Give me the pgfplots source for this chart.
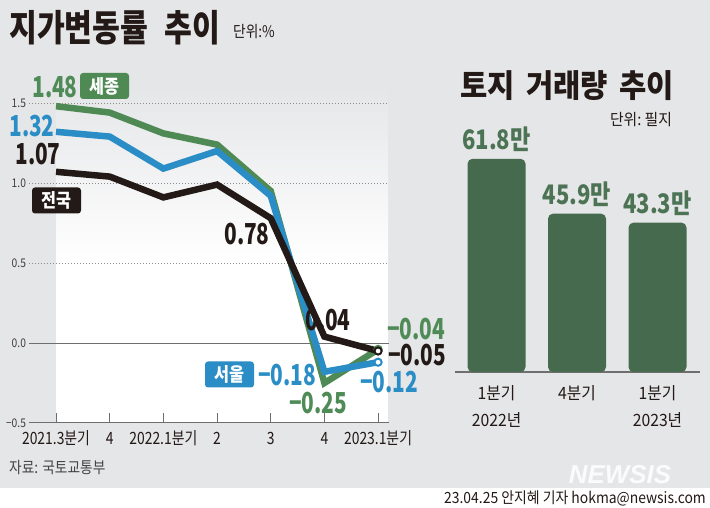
\documentclass[border=0pt]{standalone}
\usepackage{fontspec}
\setmainfont{Noto Sans CJK KR}
\newfontfamily\fX[FakeStretch=0.72]{Noto Sans CJK KR}
\newfontfamily\fY[FakeStretch=0.82]{Noto Sans CJK KR}
\newfontfamily\fZ[FakeStretch=0.86]{Noto Sans CJK KR}
\newfontfamily\fV[FakeStretch=0.9]{Noto Sans CJK KR}
\newfontfamily\fW[FakeStretch=0.93]{Noto Sans CJK KR}
\newfontfamily\lsans{Liberation Sans}
\usepackage{pgfplots}
\pgfplotsset{compat=1.18}
\definecolor{bgc}{HTML}{E5E6E8}
\definecolor{gline}{HTML}{4F8A55}
\definecolor{gtxt}{HTML}{4E8B57}
\definecolor{bline}{HTML}{2B8DC6}
\definecolor{blk}{HTML}{231916}
\definecolor{barc}{HTML}{466A4D}
\definecolor{bartxt}{HTML}{4C7454}
\definecolor{gridc}{HTML}{8C8C8C}
\definecolor{axc}{HTML}{6E6E6E}
\definecolor{ftxt}{HTML}{444444}
\tikzset{
  val/.style={inner sep=0, font=\fX\bfseries\fontsize{29}{29}\selectfont},
  tag/.style={inner sep=0, rounded corners=3bp, minimum width=49bp, minimum height=26bp, text=white, font=\fZ\bfseries\fontsize{19}{19}\selectfont},
}
\begin{document}
\begin{tikzpicture}
\useasboundingbox (0,0) rectangle (710bp,508bp);
\fill[bgc] (0,20bp) rectangle (710bp,508bp);
\fill[white] (0,0) rectangle (710bp,20bp);
% light gradient behind the lines
\shade[top color=bgc, bottom color=white] (56bp,245bp) rectangle (388bp,421bp);
\fill[white] (56bp,85bp) rectangle (388bp,245.5bp);

\begin{axis}[
  at={(29.2bp,85bp)}, anchor=south west,
  scale only axis, width=359.6bp, height=336bp,
  xmin=-0.5, xmax=6.2, ymin=-0.5, ymax=1.6,
  clip=false,
  axis lines*=left, axis line style={-},
  y axis line style={draw=none},
  x axis line style={-, draw=axc, line width=1bp},
  xtick={0,...,6},
  xticklabels={2021.3분기,4,2022.1분기,2,3,4,2023.1분기},
  tick align=inside, major tick length=10bp,
  xtick style={draw=axc, line width=1bp},
  ytick={-0.5,0,0.5,1,1.5},
  yticklabels={−0.5,0.0,0.5,1.0,1.5},
  ytick style={draw=none},
  xticklabel style={font=\fY\fontsize{17}{17}\selectfont, text=blk, anchor=center, inner sep=0, yshift=-15bp},
  yticklabel style={font=\fZ\fontsize{12}{12}\selectfont, text=blk!85, anchor=east, inner sep=0, xshift=-3bp},
]
\draw[gridc, line width=0.8bp, dash pattern=on 0.9bp off 2.1bp] (axis cs:-0.5,1.5) -- (axis cs:6.2,1.5);
\draw[gridc, line width=0.8bp, dash pattern=on 0.9bp off 2.1bp] (axis cs:-0.5,1.0) -- (axis cs:6.2,1.0);
\draw[gridc, line width=0.8bp, dash pattern=on 0.9bp off 2.1bp] (axis cs:-0.5,0.5) -- (axis cs:6.2,0.5);
\draw[axc, line width=0.9bp] (axis cs:-0.5,0) -- (axis cs:6.2,0);
\addplot[gline, line width=6.5bp, mark=*, mark indices={7}, mark size=3.6bp,
  mark options={fill=white, draw=gline, line width=2bp}]
  coordinates {(0,1.48)(1,1.44)(2,1.31)(3,1.24)(4,0.95)(5,-0.25)(6,-0.04)};
\addplot[bline, line width=6.5bp, mark=*, mark indices={7}, mark size=3.6bp,
  mark options={fill=white, draw=bline, line width=2bp}]
  coordinates {(0,1.32)(1,1.29)(2,1.09)(3,1.20)(4,0.92)(5,-0.18)(6,-0.12)};
\addplot[blk, line width=6.5bp, mark=*, mark indices={7}, mark size=3.6bp,
  mark options={fill=white, draw=blk, line width=2bp}]
  coordinates {(0,1.07)(1,1.04)(2,0.91)(3,0.99)(4,0.78)(5,0.04)(6,-0.05)};
\end{axis}

\begin{axis}[
  at={(455bp,136bp)}, anchor=south west,
  scale only axis, width=245bp, height=224.25bp,
  xmin=-0.516, xmax=2.528, ymin=0, ymax=65,
  clip=false,
  axis lines*=left, axis line style={-},
  y axis line style={draw=none},
  x axis line style={-, draw=axc, line width=1.5bp},
  ytick=\empty,
  xtick={0,1,2},
  xticklabels={{1분기\\2022년},{4분기},{1분기\\2023년}},
  xtick style={draw=none},
  xticklabel style={align=center, anchor=north, inner sep=0, yshift=-9bp, text=blk,
    font=\fW\fontsize{17}{27}\selectfont},
  ybar, bar width=58bp,
  /pgf/number format/assume math mode=true,
  nodes near coords={\pgfmathprintnumber[fixed,fixed zerofill,precision=1]{\pgfplotspointmeta}만},
  every node near coord/.append style={text=bartxt, inner sep=0, anchor=south, yshift=7bp,
    font=\fY\bfseries\fontsize{27}{27}\selectfont},
]
\addplot[fill=barc, draw=none, rounded corners=5bp] coordinates {(0,61.8)(1,45.9)(2,43.3)};
\end{axis}

% value labels, line chart
\node[val, text=gtxt] at (55bp,421bp) {1.48};
\node[tag, fill=gline] at (104.5bp,422bp) {세종};
\node[val, text=bline] at (32bp,382bp) {1.32};
\node[val, text=blk] at (38bp,354bp) {1.07};
\node[tag, fill=blk] at (56.5bp,307.5bp) {전국};
\node[val, text=blk] at (247bp,274bp) {0.78};
\node[val, text=blk] at (328bp,188bp) {0.04};
\node[val, text=gtxt] at (416bp,179bp) {−0.04};
\node[val, text=blk] at (417bp,153bp) {−0.05};
\node[tag, fill=bline] at (229.5bp,133.5bp) {서울};
\node[val, text=bline] at (287bp,133bp) {−0.18};
\node[val, text=gtxt] at (318bp,105bp) {−0.25};
\node[val, text=bline] at (389bp,126bp) {−0.12};

% titles
\node[anchor=west, inner sep=0, text=blk, font=\fY\bfseries\fontsize{37}{37}\selectfont] at (9bp,480bp) {지가변동률\hspace{0.45em}추이};
\node[anchor=west, inner sep=0, text=blk, font=\fZ\fontsize{16}{16}\selectfont] at (233bp,476bp) {단위:\%};
\node[inner sep=0, text=blk, font=\fW\bfseries\fontsize{32}{32}\selectfont] at (567bp,422bp) {토지\hspace{0.35em}거래량\hspace{0.35em}추이};
\node[inner sep=0, text=blk, font=\fW\fontsize{16}{16}\selectfont] at (641bp,388bp) {단위:\hspace{0.2em}필지};

% footer
\node[anchor=west, inner sep=0, text=ftxt, font=\fZ\fontsize{16}{16}\selectfont] at (9bp,40bp) {자료: 국토교통부};
\node[font=\lsans\bfseries\itshape\fontsize{26}{26}\selectfont, text=white, opacity=0.85, inner sep=0] at (620bp,33bp) {NEWSIS};
\node[anchor=east, inner sep=0, text=blk, font=\fV\fontsize{15.5}{15.5}\selectfont] at (706bp,10bp) {23.04.25 안지혜 기자 hokma@newsis.com};
\end{tikzpicture}
\end{document}
